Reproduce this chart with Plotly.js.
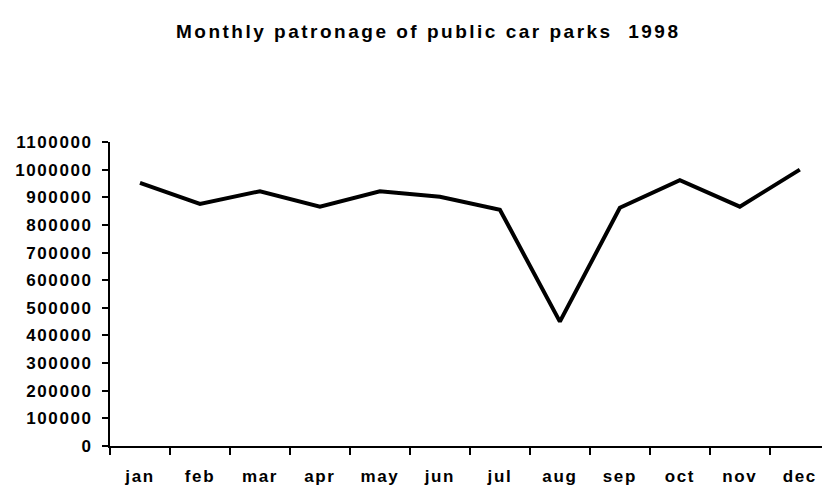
<!DOCTYPE html>
<html>
<head>
<meta charset="utf-8">
<script src="https://cdn.plot.ly/plotly-3.0.1.min.js"></script>
<style>
html, body { margin: 0; padding: 0; background: #fff; overflow: hidden; }
#chart { width: 822px; height: 486px; }
.ytick text { letter-spacing: 1.6px; }
.xtick text { letter-spacing: 1.6px; }
.gtitle { letter-spacing: 2.5px; }
</style>
</head>
<body>
<div id="chart"></div>
<script>
const months = ["jan", "feb", "mar", "apr", "may", "jun", "jul", "aug", "sep", "oct", "nov", "dec"];
const patronage = [952000, 876000, 922000, 866000, 922000, 902000, 855000, 450000, 862000, 962000, 866000, 1000000];
const yTickVals = [0, 100000, 200000, 300000, 400000, 500000, 600000, 700000, 800000, 900000, 1000000, 1100000];
const yTickText = yTickVals.map(v => String(v));

const trace = {
  type: "scatter",
  mode: "lines",
  x: months,
  y: patronage,
  line: { color: "#000000", width: 4 },
  hoverinfo: "x+y"
};

const font = { family: "Liberation Sans, Arial, sans-serif", size: 17, color: "#000000" };

const layout = {
  width: 822,
  height: 486,
  paper_bgcolor: "#ffffff",
  plot_bgcolor: "#ffffff",
  showlegend: false,
  margin: { l: 110, r: 0, t: 142, b: 40, pad: 0 },
  title: {
    text: "<b>Monthly patronage of public car parks  1998</b>",
    font: { family: "Liberation Sans, Arial, sans-serif", size: 19, color: "#000000" },
    x: 0.521,
    xanchor: "center",
    y: 0.935,
    yanchor: "middle"
  },
  xaxis: {
    type: "category",
    range: [-0.5, 11.37],
    tickson: "boundaries",
    ticks: "outside",
    ticklen: 7,
    tickwidth: 2,
    tickcolor: "#000000",
    showline: true,
    linecolor: "#000000",
    linewidth: 2,
    showgrid: false,
    zeroline: false,
    tickfont: font,
    ticklabelstandoff: 14,
    fixedrange: true
  },
  yaxis: {
    range: [0, 1100000],
    tickmode: "array",
    tickvals: yTickVals,
    ticktext: yTickText.map(t => "<b>" + t + "</b>"),
    ticks: "outside",
    ticklen: 6,
    tickwidth: 2,
    tickcolor: "#000000",
    showline: true,
    linecolor: "#000000",
    linewidth: 2,
    showgrid: false,
    zeroline: false,
    tickfont: font,
    ticklabelstandoff: 6,
    fixedrange: true
  }
};
layout.xaxis.ticktext = months.map(m => "<b>" + m + "</b>");
layout.xaxis.tickvals = months;
layout.xaxis.tickmode = "array";

Plotly.newPlot("chart", [trace], layout, { displayModeBar: false, staticPlot: true });
</script>
</body>
</html>
